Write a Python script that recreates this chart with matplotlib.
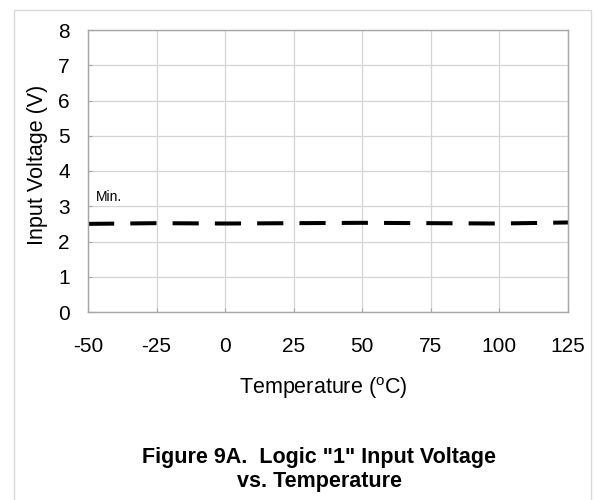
import matplotlib
matplotlib.use("Agg")
import matplotlib.pyplot as plt
from matplotlib.patches import Rectangle

# Data
temperature = [-50, -25, 0, 25, 50, 75, 100, 125]
vin_min = [2.50, 2.52, 2.51, 2.52, 2.53, 2.52, 2.51, 2.54]
x_ticks = [-50, -25, 0, 25, 50, 75, 100, 125]
y_ticks = [0, 1, 2, 3, 4, 5, 6, 7, 8]

plt.rcParams['font.family'] = ['Liberation Sans', 'DejaVu Sans']

fig = plt.figure(figsize=(5.94, 5.00), dpi=100)
ax = fig.add_axes([88/594, 1 - 312/500, (568-88)/594, (312-30)/500])

ax.plot(temperature, vin_min, color='black', linewidth=2.9,
        dashes=(6.5, 4.0), dash_capstyle='butt', solid_capstyle='butt')

ax.set_xlim(-50, 125)
ax.set_ylim(0, 8)
ax.set_xticks(x_ticks)
ax.set_yticks(y_ticks)
ax.set_xticklabels([str(v) for v in x_ticks])
ax.grid(True, color='#d4d4d4', linewidth=0.9)
ax.set_axisbelow(True)
for s in ax.spines.values():
    s.set_color('#a6a6a6')
    s.set_linewidth(1.0)
ax.tick_params(axis='both', direction='in', length=3, color='#a6a6a6',
               labelsize=15, labelcolor='black')
ax.tick_params(axis='x', pad=18)
ax.tick_params(axis='y', pad=13)

ax.set_ylabel('Input Voltage (V)', fontsize=15.5)
ax.yaxis.set_label_coords(-0.084, 0.52)
ax.set_xlabel('Temperature ($\\mathregular{^o}$C)', fontsize=15.5)
ax.xaxis.set_label_coords(0.49, -0.225)

ax.text(-47, 3.25, 'Min.', fontsize=10, ha='left', va='center')

fig.text(319/594, 1 - 457/500, 'Figure 9A.  Logic "1" Input Voltage',
         fontsize=15.5, fontweight='bold', ha='center', va='center')
fig.text(319/594, 1 - 482/500, 'vs. Temperature',
         fontsize=15.5, fontweight='bold', ha='center', va='center')

# outer frame
frame = Rectangle((13.5/594, -0.01), (591-13.5)/594, (500-9.5)/500 + 0.01,
                  transform=fig.transFigure, fill=False,
                  edgecolor='#d9d9d9', linewidth=1.0)
fig.patches.append(frame)

fig.savefig('out.png', dpi=100)
